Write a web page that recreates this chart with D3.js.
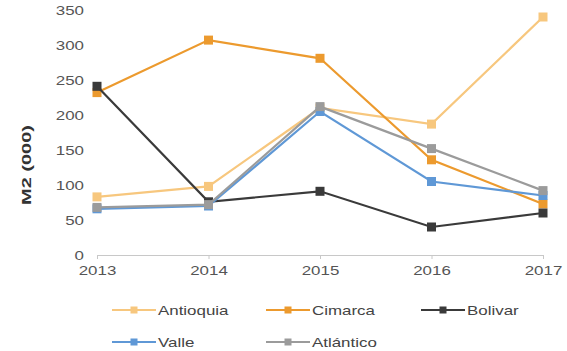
<!DOCTYPE html>
<html>
<head>
<meta charset="utf-8">
<script src="https://cdn.jsdelivr.net/npm/d3@7"></script>
<style>
  html, body { margin: 0; padding: 0; background: #fff; }
  svg { display: block; font-family: "Liberation Sans", Arial, sans-serif; }
</style>
</head>
<body>
<svg id="chart" width="567" height="351"></svg>
<script>
// Years on the x axis
const years = ["2013", "2014", "2015", "2016", "2017"];

// Area per department, M2 (thousands)
const antioquia = [83, 98, 210, 187, 340];
const cimarca   = [232, 307, 281, 136, 73];
const bolivar   = [241, 76, 91, 40, 60];
const valle     = [66, 70, 205, 105, 85];
const atlantico = [68, 72, 212, 152, 92];

const seriesNames  = ["Antioquia", "Cimarca", "Bolivar", "Valle", "Atlántico"];
const seriesColors = ["#f7c77e", "#ec9a2e", "#3a3a3a", "#5f98d6", "#9b9b9b"];
const yTicks = [0, 50, 100, 150, 200, 250, 300, 350];

const series = [antioquia, cimarca, bolivar, valle, atlantico].map((v, i) => ({
  name: seriesNames[i], color: seriesColors[i], values: v
}));

const svg = d3.select("#chart");
const margin = { left: 97, right: 24, top: 10, bottom: 96 };
const W = 567, H = 351;
const WIDEN = 1.3; // wide lettering

// stretch text horizontally while keeping its anchor
function widen(sel, factor) {
  sel.each(function() {
    const w = this.getComputedTextLength();
    d3.select(this).attr("textLength", w * factor).attr("lengthAdjust", "spacingAndGlyphs");
  });
}

const x = d3.scalePoint().domain(years).range([margin.left, W - margin.right]);
const y = d3.scaleLinear().domain([0, 350]).range([H - margin.bottom, margin.top]);

// y axis: labels only
const yAxis = svg.append("g")
  .attr("transform", `translate(${margin.left - 13},0)`)
  .call(d3.axisLeft(y).tickValues(yTicks).tickSize(0).tickPadding(0));
yAxis.select(".domain").remove();
yAxis.selectAll("text").attr("fill", "#555").style("font-size", "13px").call(widen, WIDEN);

// x axis with light baseline
const xAxis = svg.append("g")
  .attr("transform", `translate(0,${y(0)})`)
  .call(d3.axisBottom(x).tickSize(4).tickPadding(7));
xAxis.select(".domain").attr("stroke", "#c8c8c8");
xAxis.selectAll(".tick line").attr("stroke", "#c8c8c8");
xAxis.selectAll("text").attr("fill", "#555").style("font-size", "13px").call(widen, WIDEN);

// y axis title
svg.append("text")
  .attr("transform", `translate(31,165) rotate(-90)`)
  .attr("text-anchor", "middle")
  .style("font-size", "12.5px")
  .style("font-weight", "bold")
  .attr("fill", "#333")
  .text("M2 (000)")
  .attr("textLength", 80).attr("lengthAdjust", "spacingAndGlyphs");

const line = d3.line().x((d, i) => x(years[i])).y(d => y(d));

const gSeries = svg.append("g");
series.forEach(s => {
  const g = gSeries.append("g");
  g.append("path")
    .attr("d", line(s.values))
    .attr("fill", "none")
    .attr("stroke", s.color)
    .attr("stroke-width", 2.2);
  g.selectAll("rect").data(s.values).join("rect")
    .attr("x", (d, i) => x(years[i]) - 4.5)
    .attr("y", d => y(d) - 4.5)
    .attr("width", 9).attr("height", 9)
    .attr("fill", s.color);
});

// Legend, two rows
const legendPos = [
  [112, 310], [266, 310], [421, 310],
  [112, 342], [266, 342]
];
series.forEach((s, i) => {
  const [lx, ly] = legendPos[i];
  const g = svg.append("g").attr("transform", `translate(${lx},${ly})`);
  g.append("line").attr("x1", 0).attr("x2", 44).attr("y1", 0).attr("y2", 0)
    .attr("stroke", s.color).attr("stroke-width", 2);
  g.append("rect").attr("x", 18.5).attr("y", -3.5).attr("width", 7).attr("height", 7)
    .attr("fill", s.color);
  g.append("text").attr("x", 46).attr("y", 5)
    .style("font-size", "13px").attr("fill", "#444")
    .text(s.name)
    .call(widen, WIDEN);
});
</script>
</body>
</html>
